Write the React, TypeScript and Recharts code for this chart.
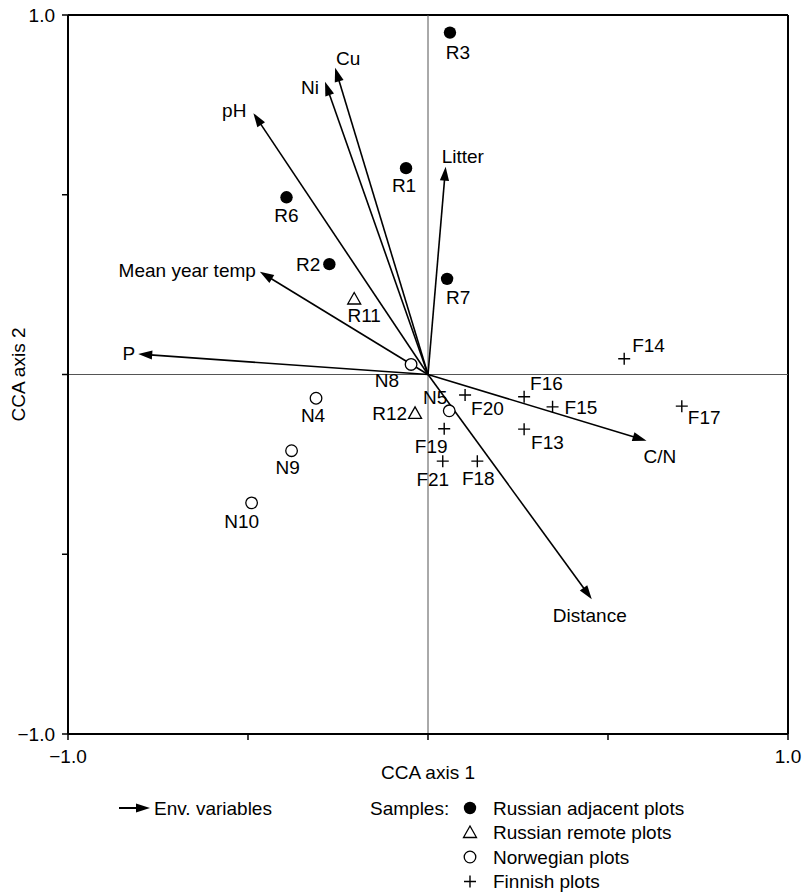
import React from 'react';
import { ScatterChart, Scatter, XAxis, YAxis, ReferenceLine } from 'recharts';

const FONT = '"Liberation Sans", Arial, Helvetica, sans-serif';
const FS = 19;

// Environmental variables (biplot arrow tips, CCA axis units)
const envNames = ['Cu', 'Ni', 'pH', 'Mean year temp', 'P', 'Litter', 'C/N', 'Distance'];
const envAxis1 = [-0.258, -0.286, -0.485, -0.467, -0.805, 0.049, 0.607, 0.455];
const envAxis2 = [0.853, 0.814, 0.727, 0.286, 0.057, 0.578, -0.184, -0.625];

// Samples
const russianAdjNames = ['R1', 'R2', 'R3', 'R6', 'R7'];
const russianAdjAxis1 = [-0.061, -0.274, 0.061, -0.393, 0.053];
const russianAdjAxis2 = [0.574, 0.307, 0.951, 0.493, 0.266];

const russianRemoteNames = ['R11', 'R12'];
const russianRemoteAxis1 = [-0.205, -0.036];
const russianRemoteAxis2 = [0.21, -0.108];

const norwegianNames = ['N4', 'N5', 'N8', 'N9', 'N10'];
const norwegianAxis1 = [-0.311, 0.059, -0.047, -0.379, -0.49];
const norwegianAxis2 = [-0.066, -0.101, 0.028, -0.212, -0.357];

const finnishNames = ['F13', 'F14', 'F15', 'F16', 'F17', 'F18', 'F19', 'F20', 'F21'];
const finnishAxis1 = [0.267, 0.545, 0.346, 0.267, 0.705, 0.137, 0.045, 0.103, 0.041];
const finnishAxis2 = [-0.152, 0.044, -0.09, -0.062, -0.088, -0.241, -0.151, -0.057, -0.241];

const axisTicks = [-1, -0.5, 0, 0.5, 1];
const endTickLabels: Record<string, string> = { '-1': '\u22121.0', '1': '1.0' };

const axis1Title = 'CCA axis 1';
const axis2Title = 'CCA axis 2';
const envLegendLabel = 'Env. variables';
const samplesLegendTitle = 'Samples:';
const sampleLegendLabels = ['Russian adjacent plots', 'Russian remote plots', 'Norwegian plots', 'Finnish plots'];

const zip = (names: string[], xs: number[], ys: number[]) =>
  names.map((name, i) => ({ name, x: xs[i], y: ys[i] }));

const envData = zip(envNames, envAxis1, envAxis2);
const russianAdj = zip(russianAdjNames, russianAdjAxis1, russianAdjAxis2);
const russianRemote = zip(russianRemoteNames, russianRemoteAxis1, russianRemoteAxis2);
const norwegian = zip(norwegianNames, norwegianAxis1, norwegianAxis2);
const finnish = zip(finnishNames, finnishAxis1, finnishAxis2);

// label placement (layout only): offset from the mark in px
type Place = { dx: number; dy: number; anchor: 'start' | 'middle' | 'end' };
const labelPlace: Record<string, Place> = {
  R1: { dx: -2, dy: 17, anchor: 'middle' },
  R2: { dx: -9, dy: 0, anchor: 'end' },
  R3: { dx: 8, dy: 20, anchor: 'middle' },
  R6: { dx: 0, dy: 18, anchor: 'middle' },
  R7: { dx: 11, dy: 18, anchor: 'middle' },
  R11: { dx: 10, dy: 16, anchor: 'middle' },
  R12: { dx: -8, dy: 0, anchor: 'end' },
  N4: { dx: -3, dy: 17, anchor: 'middle' },
  N5: { dx: -14, dy: -13, anchor: 'middle' },
  N8: { dx: -12, dy: 16, anchor: 'end' },
  N9: { dx: -4, dy: 17, anchor: 'middle' },
  N10: { dx: -10, dy: 19, anchor: 'middle' },
  F13: { dx: 7, dy: 13, anchor: 'start' },
  F14: { dx: 8, dy: -13, anchor: 'start' },
  F15: { dx: 12, dy: 0, anchor: 'start' },
  F16: { dx: 6, dy: -13, anchor: 'start' },
  F17: { dx: 6, dy: 11, anchor: 'start' },
  F18: { dx: 1, dy: 17, anchor: 'middle' },
  F19: { dx: -13, dy: 18, anchor: 'middle' },
  F20: { dx: 6, dy: 13, anchor: 'start' },
  F21: { dx: -10, dy: 18, anchor: 'middle' },
  Cu: { dx: 1, dy: -9, anchor: 'start' },
  Ni: { dx: -6, dy: 5, anchor: 'end' },
  pH: { dx: -7, dy: -3, anchor: 'end' },
  'Mean year temp': { dx: -4, dy: -1, anchor: 'end' },
  P: { dx: -3, dy: -1, anchor: 'end' },
  Litter: { dx: -4, dy: -10, anchor: 'start' },
  'C/N': { dx: -3, dy: 16, anchor: 'start' },
  Distance: { dx: -2, dy: 16, anchor: 'middle' },
};

const TextLabel = ({ x, y, name }: { x: number; y: number; name: string }) => {
  const p = labelPlace[name] ?? { dx: 0, dy: 16, anchor: 'middle' };
  return (
    <text x={x + p.dx} y={y + p.dy} dy="0.35em" textAnchor={p.anchor} fontSize={FS} fontFamily={FONT} fill="#000">
      {name}
    </text>
  );
};

type Kind = 'filled' | 'open' | 'triangle' | 'plus';

const symbol = (kind: Kind, cx: number, cy: number) => {
  switch (kind) {
    case 'filled':
      return <circle cx={cx} cy={cy} r={6.2} fill="#000" />;
    case 'open':
      return <circle cx={cx} cy={cy} r={5.8} fill="#fff" stroke="#000" strokeWidth={1.3} />;
    case 'triangle':
      return (
        <polygon
          points={`${cx},${cy - 6.5} ${cx - 6.5},${cy + 5} ${cx + 6.5},${cy + 5}`}
          fill="#fff"
          stroke="#000"
          strokeWidth={1.3}
        />
      );
    default:
      return (
        <path d={`M${cx - 6},${cy}H${cx + 6}M${cx},${cy - 6}V${cy + 6}`} stroke="#000" strokeWidth={1.4} fill="none" />
      );
  }
};

const makeShape = (kind: Kind) => (props: any) => {
  const { cx, cy, payload } = props;
  if (cx == null || cy == null) return <g />;
  return (
    <g>
      {symbol(kind, cx, cy)}
      <TextLabel x={cx} y={cy} name={payload?.name ?? ''} />
    </g>
  );
};

const makeArrow = (name: string) => (props: any) => {
  const { x1, y1, x2, y2 } = props;
  if ([x1, y1, x2, y2].some((v) => v == null || Number.isNaN(v))) return <g />;
  const vx = x2 - x1;
  const vy = y2 - y1;
  const len = Math.hypot(vx, vy) || 1;
  const ux = vx / len;
  const uy = vy / len;
  const L = 14;
  const W = 4.6;
  const bx = x2 - ux * L;
  const by = y2 - uy * L;
  return (
    <g>
      <line x1={x1} y1={y1} x2={bx + ux * 2} y2={by + uy * 2} stroke="#000" strokeWidth={1.6} />
      <polygon points={`${x2},${y2} ${bx - uy * W},${by + ux * W} ${bx + uy * W},${by - ux * W}`} fill="#000" />
      <TextLabel x={x2} y={y2} name={name} />
    </g>
  );
};

const tickFmt = (v: number) => endTickLabels[String(v)] ?? '';

const tickStyle = { fill: '#000', fontSize: FS, fontFamily: FONT };

const Legend = () => {
  const rowY = [808, 832.5, 857, 881.5];
  const symX = 470;
  const textX = 493;
  const kinds: Kind[] = ['filled', 'triangle', 'open', 'plus'];
  return (
    <svg width={811} height={892} style={{ position: 'absolute', left: 0, top: 0, pointerEvents: 'none' }}>
      <line x1={119} y1={rowY[0]} x2={138} y2={rowY[0]} stroke="#000" strokeWidth={2} />
      <polygon points={`150,${rowY[0]} 136,${rowY[0] - 4.6} 136,${rowY[0] + 4.6}`} fill="#000" />
      <text x={154} y={rowY[0]} dy="0.35em" fontSize={FS} fontFamily={FONT} fill="#000">
        {envLegendLabel}
      </text>
      <text x={370} y={rowY[0]} dy="0.35em" fontSize={FS} fontFamily={FONT} fill="#000">
        {samplesLegendTitle}
      </text>
      {sampleLegendLabels.map((lab, i) => (
        <g key={lab}>
          {symbol(kinds[i], symX, rowY[i])}
          <text x={textX} y={rowY[i]} dy="0.35em" fontSize={FS} fontFamily={FONT} fill="#000">
            {lab}
          </text>
        </g>
      ))}
    </svg>
  );
};

export default function App() {
  return (
    <div style={{ position: 'relative', width: 811, height: 892, background: '#fff' }}>
      <style>{'body{margin:0;background:#fff}'}</style>
      <ScatterChart width={811} height={892} margin={{ top: 15, right: 23, bottom: 0, left: 0 }}>
        <XAxis
          type="number"
          dataKey="x"
          domain={[-1, 1]}
          ticks={axisTicks}
          tickFormatter={tickFmt}
          allowDataOverflow
          height={158}
          tickSize={6}
          tickMargin={10}
          axisLine={{ stroke: '#000', strokeWidth: 2 }}
          tickLine={{ stroke: '#000', strokeWidth: 1.5 }}
          tick={tickStyle}
          label={{
            content: (p: any) => {
              const vb = p.viewBox ?? { x: 68, y: 734, width: 720 };
              return (
                <text x={vb.x + vb.width / 2} y={vb.y + 38} dy="0.35em" textAnchor="middle" fontSize={FS} fontFamily={FONT} fill="#000">
                  {axis1Title}
                </text>
              );
            },
          }}
        />
        <YAxis
          type="number"
          dataKey="y"
          domain={[-1, 1]}
          ticks={axisTicks}
          tickFormatter={tickFmt}
          allowDataOverflow
          width={68}
          tickSize={6}
          tickMargin={7}
          axisLine={{ stroke: '#000', strokeWidth: 2 }}
          tickLine={{ stroke: '#000', strokeWidth: 1.5 }}
          tick={tickStyle}
          label={{
            content: (p: any) => {
              const vb = p.viewBox ?? { x: 0, y: 15, height: 719 };
              const cx = 18;
              const cy = vb.y + vb.height / 2;
              return (
                <text x={cx} y={cy} dy="0.35em" transform={`rotate(-90 ${cx} ${cy})`} textAnchor="middle" fontSize={FS} fontFamily={FONT} fill="#000">
                  {axis2Title}
                </text>
              );
            },
          }}
        />
        <ReferenceLine y={1} stroke="#000" strokeWidth={2} ifOverflow="visible" />
        <ReferenceLine x={1} stroke="#000" strokeWidth={2} ifOverflow="visible" />
        <ReferenceLine y={0} stroke="#555" strokeWidth={1} ifOverflow="visible" />
        <ReferenceLine x={0} stroke="#555" strokeWidth={1} ifOverflow="visible" />
        {envData.map((v) => (
          <ReferenceLine
            key={v.name}
            segment={[{ x: 0, y: 0 }, { x: v.x, y: v.y }]}
            ifOverflow="visible"
            stroke="#000"
            shape={makeArrow(v.name)}
          />
        ))}
        <Scatter data={russianAdj} shape={makeShape('filled')} isAnimationActive={false} />
        <Scatter data={russianRemote} shape={makeShape('triangle')} isAnimationActive={false} />
        <Scatter data={norwegian} shape={makeShape('open')} isAnimationActive={false} />
        <Scatter data={finnish} shape={makeShape('plus')} isAnimationActive={false} />
      </ScatterChart>
      <Legend />
    </div>
  );
}
